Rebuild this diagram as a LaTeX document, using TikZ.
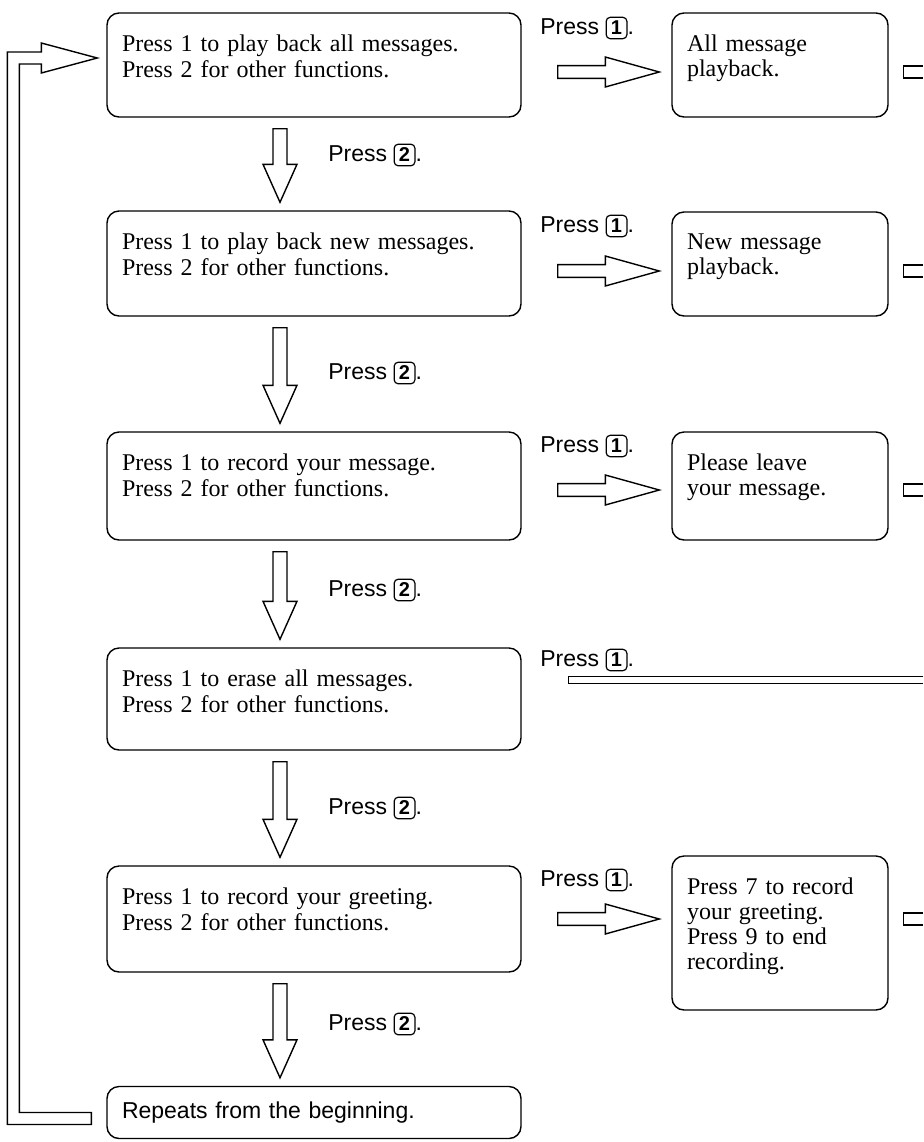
\documentclass[tikz,border=0pt]{standalone}
\usepackage{fontspec}
\setmainfont{Liberation Serif}
\setsansfont{Liberation Sans}
\usetikzlibrary{calc,positioning}

\tikzset{
  menu/.style={draw, rounded corners=6pt, line width=0.7pt, minimum width=207pt, text width=192pt, inner xsep=7.5pt, inner ysep=0pt, font=\fontsize{12}{13}\selectfont},
  result/.style={draw, rounded corners=6pt, line width=0.7pt, minimum width=108pt, text width=93pt, inner xsep=7.5pt, inner ysep=0pt, font=\fontsize{12}{12.5}\selectfont},
  presslbl/.style={anchor=west, inner sep=0pt, font=\sffamily\fontsize{11.5}{13}\selectfont},
  hollow/.style={draw, line width=0.7pt, fill=white, line join=miter},
  stub/.style={draw, line width=0.7pt},
}

% box text set from the top: #1 = box height
\newcommand{\topped}[2]{\parbox[c][#1][t]{\hsize}{\raggedright\vspace*{11pt}#2}}

% key symbol
\newcommand{\keycap}[1]{\tikz[baseline=(kc.base)]\node[draw, rounded corners=2pt, line width=0.6pt, inner xsep=2.4pt, inner ysep=1.9pt, font=\sffamily\bfseries\fontsize{10}{10}\selectfont] (kc) {#1};}

% hollow arrow down between two menu boxes
\newcommand{\downarr}[2]{%
  \draw[hollow] let \p1=(#1.south), \p2=(#2.north) in
    (\x1-20.5pt,\y1-5.5pt) -- (\x1-20.5pt,\y2+23pt) -- (\x1-25.5pt,\y2+23pt)
    -- (\x1-17pt,\y2+4pt) -- (\x1-8.5pt,\y2+23pt) -- (\x1-13.5pt,\y2+23pt)
    -- (\x1-13.5pt,\y1-5.5pt) -- cycle;}

% hollow arrow right, at the height of coordinate #3
\newcommand{\rightarr}[3]{%
  \draw[hollow] let \p1=(#1.east), \p2=(#2.west), \p3=(#3) in
    (\x1+18pt,\y3+3.2pt) -- (\x2-33pt,\y3+3.2pt) -- (\x2-33pt,\y3+7.5pt)
    -- (\x2-6pt,\y3) -- (\x2-33pt,\y3-7.5pt) -- (\x2-33pt,\y3-3.2pt)
    -- (\x1+18pt,\y3-3.2pt) -- cycle;}

% start of an arrow leaving the page
\newcommand{\offpage}[2]{%
  \draw[stub] let \p1=(#1.east), \p3=(#2) in
    (461.5pt,\y3+3pt) -- (\x1+7.5pt,\y3+3pt) -- (\x1+7.5pt,\y3-3pt) -- (461.5pt,\y3-3pt);}

\begin{document}
\begin{tikzpicture}[x=0.5pt, y=0.5pt]
    \useasboundingbox (0,0) rectangle (923,-1142);

    % Menu
    \node[menu] (b1) at (314,-65) {\topped{52pt}{Press 1 to play back all messages.\\Press 2 for other functions.}};
    \node[menu] (b2) at (314,-263.5) {\topped{52.5pt}{Press 1 to play back new messages.\\Press 2 for other functions.}};
    \node[menu] (b3) at (314,-486) {\topped{54pt}{Press 1 to record your message.\\Press 2 for other functions.}};
    \node[menu] (b4) at (314,-699) {\topped{51pt}{Press 1 to erase all messages.\\Press 2 for other functions.}};
    \node[menu] (b5) at (314,-919) {\topped{53pt}{Press 1 to record your greeting.\\Press 2 for other functions.}};
    \node[menu, minimum height=26pt, font=\sffamily\fontsize{11.5}{13}\selectfont] (b6) at (314,-1112.5) {Repeats from the beginning.};

    % Results
    \node[result] (r1) at (780,-65) {\topped{52pt}{All message\\playback.}};
    \node[result] (r2) at (780,-264) {\topped{52pt}{New message\\playback.}};
    \node[result] (r3) at (780,-486) {\topped{54pt}{Please leave\\your message.}};
    \node[result] (r5) at (780,-933) {\topped{77pt}{Press 7 to record\\your greeting.\\Press 9 to end\\recording.}};

    % Press 2
    \foreach \i/\yy in {1/155, 2/373, 3/590, 4/808, 5/1024}
        \node[presslbl] (p2\i) at (328,-\yy) {Press \keycap{2}.};
    \downarr{b1}{b2}
    \downarr{b2}{b3}
    \downarr{b3}{b4}
    \downarr{b4}{b5}
    \downarr{b5}{b6}

    % Press 1
    \foreach \i/\yy in {1/28, 2/226, 3/446, 4/660, 5/880}
        \node[presslbl] (p1\i) at (540,-\yy) {Press \keycap{1}.};
    \coordinate (y1) at (0,-72);
    \coordinate (y2) at (0,-271);
    \coordinate (y3) at (0,-490);
    \coordinate (y4) at (0,-680);
    \coordinate (y5) at (0,-919);
    \rightarr{b1}{r1}{y1}
    \rightarr{b2}{r2}{y2}
    \rightarr{b3}{r3}{y3}
    \rightarr{b5}{r5}{y5}
    \offpage{r1}{y1}
    \offpage{r2}{y2}
    \offpage{r3}{y3}
    \offpage{r5}{y5}
    \draw[stub] let \p1=(b4.east), \p3=(y4) in
        (461.5pt,\y3+1.75pt) -- (\x1+23.5pt,\y3+1.75pt) -- (\x1+23.5pt,\y3-1.75pt) -- (461.5pt,\y3-1.75pt);

    % Back to the beginning
    \draw[hollow] let \p1=(b6.west), \p2=(b1.west) in
        (\x1-7.5pt,\y1-6pt) -- (\x2-49.5pt,\y1-6pt) -- (\x2-49.5pt,\y2+6.5pt)
        -- (\x2-32.5pt,\y2+6.5pt) -- (\x2-32.5pt,\y2+11pt) -- (\x2-4.5pt,\y2+3.5pt)
        -- (\x2-32.5pt,\y2-4pt) -- (\x2-32.5pt,\y2+0.5pt) -- (\x2-43.5pt,\y2+0.5pt)
        -- (\x2-43.5pt,\y1) -- (\x1-7.5pt,\y1) -- cycle;
\end{tikzpicture}
\end{document}
